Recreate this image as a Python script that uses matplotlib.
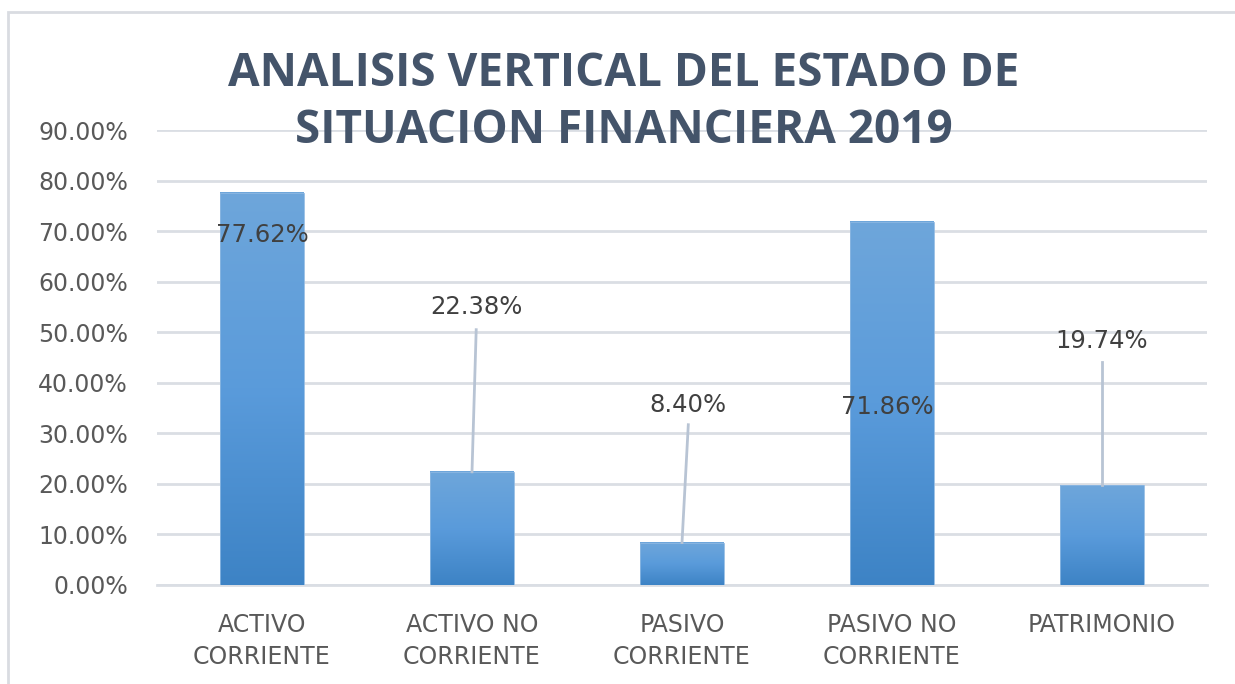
import numpy as np
import matplotlib
matplotlib.use("Agg")
import matplotlib.pyplot as plt
from matplotlib.colors import LinearSegmentedColormap
from matplotlib.patches import Rectangle

# data
categorias = ["ACTIVO\nCORRIENTE", "ACTIVO NO\nCORRIENTE", "PASIVO\nCORRIENTE",
              "PASIVO NO\nCORRIENTE", "PATRIMONIO"]
valores = [77.62, 22.38, 8.40, 71.86, 19.74]
titulo = "ANALISIS VERTICAL DEL ESTADO DE\nSITUACION FINANCIERA 2019"
yticks = [0, 10, 20, 30, 40, 50, 60, 70, 80, 90]

# label placement (x offset, label y, leader top y or None)
lbl_dx = [0.0, 0.02, 0.03, -0.02, 0.0]
lbl_y = [69.3, 54.9, 35.6, 35.2, 48.3]
leader_top = [None, 50.5, 31.7, None, 44.2]

txt = "#595959"
grid = "#DADEE4"
cmap = LinearSegmentedColormap.from_list("barra", ["#3D83C5", "#5A9BDB", "#6EA6DA"])

fig = plt.figure(figsize=(12.35, 6.84), dpi=100)
fig.patches.append(Rectangle((8 / 1235, -0.1), 1.2, 1 - 12 / 684 + 0.1, transform=fig.transFigure,
                             fill=False, edgecolor="#D9DCE1", linewidth=2))
ax = fig.add_axes([157 / 1235, 1 - 585 / 684, 1050 / 1235, 455 / 684])

x = np.arange(len(valores))
w = 0.4
bars = ax.bar(x, valores, width=w, color="none", edgecolor="#8DB8E2", linewidth=0.6, zorder=3)
grad = np.linspace(0, 1, 256).reshape(-1, 1)
for b in bars:
    x0, y0 = b.get_x(), b.get_y()
    ax.imshow(grad, extent=[x0, x0 + b.get_width(), y0, y0 + b.get_height()],
              origin="lower", aspect="auto", cmap=cmap, zorder=2)

ax.set_xlim(-0.5, len(valores) - 0.5)
ax.set_ylim(0, 90)
ax.set_yticks(yticks)
ax.set_yticklabels([f"{v:.2f}%" for v in yticks])
ax.set_xticks(x)
ax.set_xticklabels(categorias, linespacing=1.45)
ax.grid(axis="y", color=grid, linewidth=2, zorder=0)
ax.set_axisbelow(True)
for s in ax.spines.values():
    s.set_visible(False)
ax.tick_params(axis="y", length=0, pad=21, labelsize=17, labelcolor=txt)
ax.tick_params(axis="x", length=0, pad=20, labelsize=17, labelcolor=txt)
ax.axhline(0, color=grid, linewidth=2, zorder=1, clip_on=False)

for i, v in enumerate(valores):
    ax.text(i + lbl_dx[i], lbl_y[i], f"{v:.2f}%", ha="center", va="center",
            fontsize=17.5, color="#404040", zorder=5)
    if leader_top[i] is not None:
        ax.plot([i, i + lbl_dx[i]], [v, leader_top[i]], color="#B8C4D4", linewidth=2, zorder=4)

fig.text(0.505, 0.851, titulo, ha="center", va="center", fontsize=33, fontweight="bold",
         family="Open Sans", color="#44546A", linespacing=1.27)

fig.savefig("out.png", dpi=100)
